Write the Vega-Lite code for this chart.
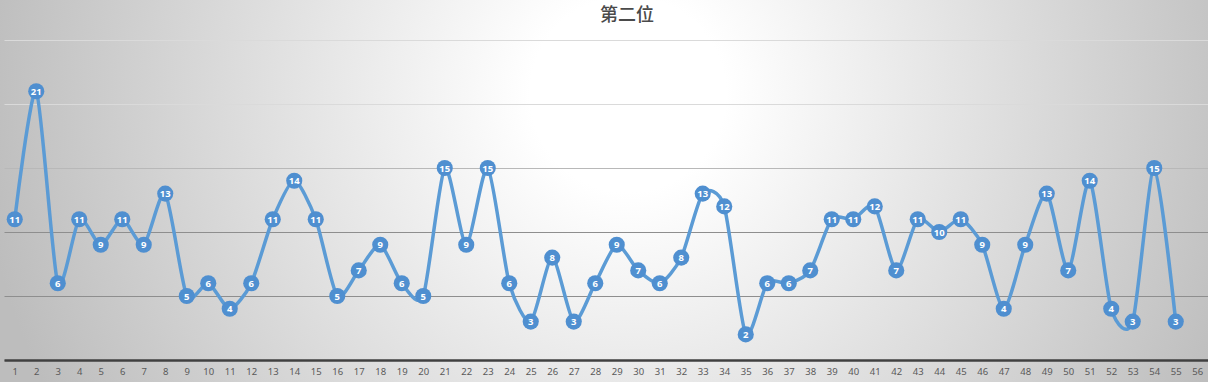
{
  "$schema": "https://vega.github.io/schema/vega-lite/v6.json",
  "width": 1208,
  "height": 382,
  "autosize": {"type": "none"},
  "padding": 0,
  "background": "#d0d0d0",
  "view": {
    "stroke": null,
    "fill": {
      "gradient": "radial",
      "x1": 0.52, "y1": 0.42, "r1": 0,
      "x2": 0.52, "y2": 0.42, "r2": 0.54,
      "stops": [
        {"offset": 0, "color": "#ffffff"},
        {"offset": 0.15, "color": "#ffffff"},
        {"offset": 1, "color": "#bdbdbd"}
      ]
    }
  },
  "title": {
    "text": "第二位",
    "font": "Noto Sans CJK SC",
    "fontSize": 18,
    "fontWeight": 500,
    "color": "#4a4a4a",
    "anchor": "middle",
    "offset": -25,
    "dx": 23
  },
  "data": {
    "values": [
      {"i": 1, "v": 11}, {"i": 2, "v": 21}, {"i": 3, "v": 6}, {"i": 4, "v": 11}, {"i": 5, "v": 9},
      {"i": 6, "v": 11}, {"i": 7, "v": 9}, {"i": 8, "v": 13}, {"i": 9, "v": 5}, {"i": 10, "v": 6},
      {"i": 11, "v": 4}, {"i": 12, "v": 6}, {"i": 13, "v": 11}, {"i": 14, "v": 14}, {"i": 15, "v": 11},
      {"i": 16, "v": 5}, {"i": 17, "v": 7}, {"i": 18, "v": 9}, {"i": 19, "v": 6}, {"i": 20, "v": 5},
      {"i": 21, "v": 15}, {"i": 22, "v": 9}, {"i": 23, "v": 15}, {"i": 24, "v": 6}, {"i": 25, "v": 3},
      {"i": 26, "v": 8}, {"i": 27, "v": 3}, {"i": 28, "v": 6}, {"i": 29, "v": 9}, {"i": 30, "v": 7},
      {"i": 31, "v": 6}, {"i": 32, "v": 8}, {"i": 33, "v": 13}, {"i": 34, "v": 12}, {"i": 35, "v": 2},
      {"i": 36, "v": 6}, {"i": 37, "v": 6}, {"i": 38, "v": 7}, {"i": 39, "v": 11}, {"i": 40, "v": 11},
      {"i": 41, "v": 12}, {"i": 42, "v": 7}, {"i": 43, "v": 11}, {"i": 44, "v": 10}, {"i": 45, "v": 11},
      {"i": 46, "v": 9}, {"i": 47, "v": 4}, {"i": 48, "v": 9}, {"i": 49, "v": 13}, {"i": 50, "v": 7},
      {"i": 51, "v": 14}, {"i": 52, "v": 4}, {"i": 53, "v": 3}, {"i": 54, "v": 15}, {"i": 55, "v": 3}
    ]
  },
  "encoding": {
    "x": {
      "field": "i",
      "type": "ordinal",
      "scale": {
        "type": "point",
        "domain": [1,2,3,4,5,6,7,8,9,10,11,12,13,14,15,16,17,18,19,20,21,22,23,24,25,26,27,28,29,30,31,32,33,34,35,36,37,38,39,40,41,42,43,44,45,46,47,48,49,50,51,52,53,54,55,56],
        "range": [4, 1208],
        "padding": 0.5
      },
      "axis": {
        "orient": "bottom",
        "offset": -22,
        "title": null,
        "labelAngle": 0,
        "ticks": false,
        "grid": false,
        "domainColor": "#404040",
        "domainWidth": 2.5,
        "labelColor": "#595959",
        "labelFont": "Noto Sans",
        "labelFontSize": 9.5,
        "labelPadding": 6
      }
    },
    "y": {
      "field": "v",
      "type": "quantitative",
      "scale": {"domain": [0, 25], "range": [360, 40]},
      "axis": {
        "title": null,
        "labels": false,
        "ticks": false,
        "domain": false,
        "values": [0, 5, 10, 15, 20, 25],
        "grid": true,
        "gridWidth": 1,
        "gridColor": {
          "condition": [
            {"test": "datum.value <= 10", "value": "#8e8e8e"},
            {"test": "datum.value == 15", "value": "#b8b8b8"}
          ],
          "value": "#dadada"
        }
      }
    }
  },
  "layer": [
    {
      "mark": {"type": "line", "interpolate": "cardinal", "tension": 0.3, "strokeWidth": 3.5, "color": "#5B9BD5"}
    },
    {
      "mark": {"type": "point", "filled": true, "shape": "circle", "size": 260, "color": "#4F8FD0", "opacity": 1}
    },
    {
      "mark": {"type": "text", "color": "#ffffff", "font": "Noto Sans", "fontSize": 9.5, "fontWeight": "bold", "baseline": "middle", "align": "center", "dy": 0.5},
      "encoding": {"text": {"field": "v", "type": "quantitative"}}
    }
  ]
}
